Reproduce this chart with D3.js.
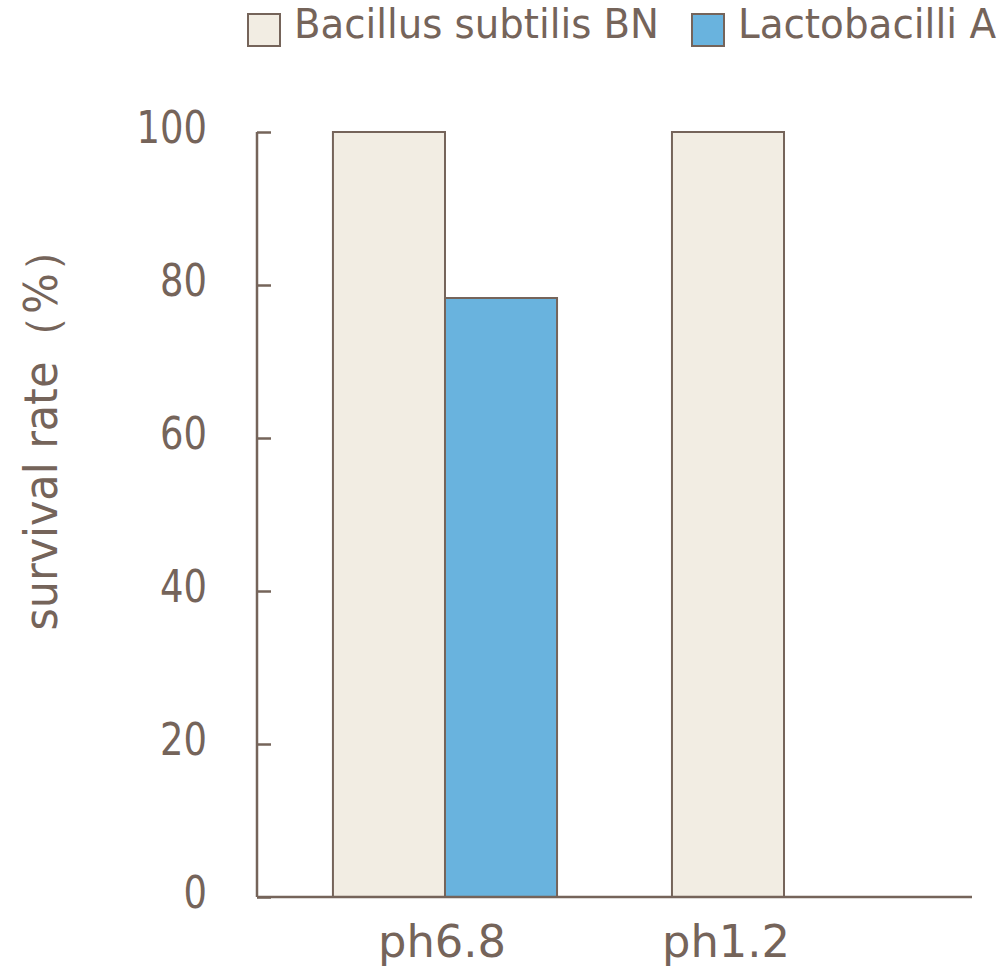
<!DOCTYPE html>
<html><head><meta charset="utf-8">
<script src="https://cdn.jsdelivr.net/npm/d3@7"></script>
<style>
html,body{margin:0;padding:0;background:#fff;}
text{font-family:"DejaVu Sans Condensed","Noto Sans",sans-serif;fill:#75645a;}
</style></head><body>
<svg id="chart" width="1000" height="974"></svg>
<script>
const categories = ["ph6.8", "ph1.2"];
const seriesNames = ["Bacillus subtilis BN", "Lactobacilli A"];
const bacillusValues = [100, 100];
const lactobacilliValues = [78.3, 0];
const yTicks = [0, 20, 40, 60, 80, 100];
const yTitle = "survival rate（%）";

const colors = ["#f2ede3", "#69b3de"];
const ink = "#75645a";

const svg = d3.select("#chart");
const x0 = d3.scaleBand().domain(categories).range([257, 972]).paddingInner(0.339).paddingOuter(0.224);
const x1 = d3.scaleBand().domain(seriesNames).range([0, x0.bandwidth()]);
const y = d3.scaleLinear().domain([0, 100]).range([897, 132]);

const data = categories.map((c, i) => ({cat: c, vals: [bacillusValues[i], lactobacilliValues[i]]}));

// fit text to a target width
function fit(sel, w) { sel.attr("textLength", w).attr("lengthAdjust", "spacingAndGlyphs"); }

// bars
const g = svg.append("g");
data.forEach(d => {
  d.vals.forEach((v, j) => {
    if (v <= 0) return;
    g.append("rect")
      .attr("x", x0(d.cat) + x1(seriesNames[j]))
      .attr("y", y(v))
      .attr("width", x1.bandwidth())
      .attr("height", y(0) - y(v))
      .attr("fill", colors[j])
      .attr("stroke", ink)
      .attr("stroke-width", 2);
  });
});

// y axis
const yAxis = d3.axisRight(y).tickValues(yTicks).tickSize(14).tickFormat("");
const ya = svg.append("g").attr("transform", "translate(257,0)").call(yAxis);
ya.select(".domain").remove();
ya.selectAll("line").attr("stroke", ink).attr("stroke-width", 2.5);
svg.append("line").attr("x1", 257).attr("x2", 257).attr("y1", y(100)).attr("y2", y(0))
  .attr("stroke", ink).attr("stroke-width", 2.5);
svg.selectAll(".ylab").data(yTicks).enter().append("text")
  .attr("x", 207).attr("y", d => y(d) + 10.5)
  .attr("text-anchor", "end")
  .attr("font-size", 45).text(d => d)
  .each(function(d) { fit(d3.select(this), String(d).length * 23.5); });

// x axis
const xLabelShift = [-3, -58];
svg.append("line").attr("x1", 257).attr("x2", 972).attr("y1", 897).attr("y2", 897)
  .attr("stroke", ink).attr("stroke-width", 2.5);
svg.selectAll(".xlab").data(categories).enter().append("text")
  .attr("x", (d, i) => x0(d) + x0.bandwidth() / 2 + xLabelShift[i])
  .attr("y", 957).attr("text-anchor", "middle").attr("font-size", 45)
  .text(d => d)
  .each(function() { fit(d3.select(this), 128); });

// y title
svg.append("text").attr("transform", "translate(57,428) rotate(-90)")
  .attr("text-anchor", "middle").attr("font-size", 46).text(yTitle)
  .call(fit, 405);

// legend
const legX = [248, 692];
const legW = [365, 258];
seriesNames.forEach((s, j) => {
  svg.append("rect").attr("x", legX[j]).attr("y", 14).attr("width", 32).attr("height", 32)
    .attr("fill", colors[j]).attr("stroke", ink).attr("stroke-width", 2);
  svg.append("text").attr("x", legX[j] + 46).attr("y", 38).attr("font-size", 40).text(s)
    .call(fit, legW[j]);
});
</script></body></html>
